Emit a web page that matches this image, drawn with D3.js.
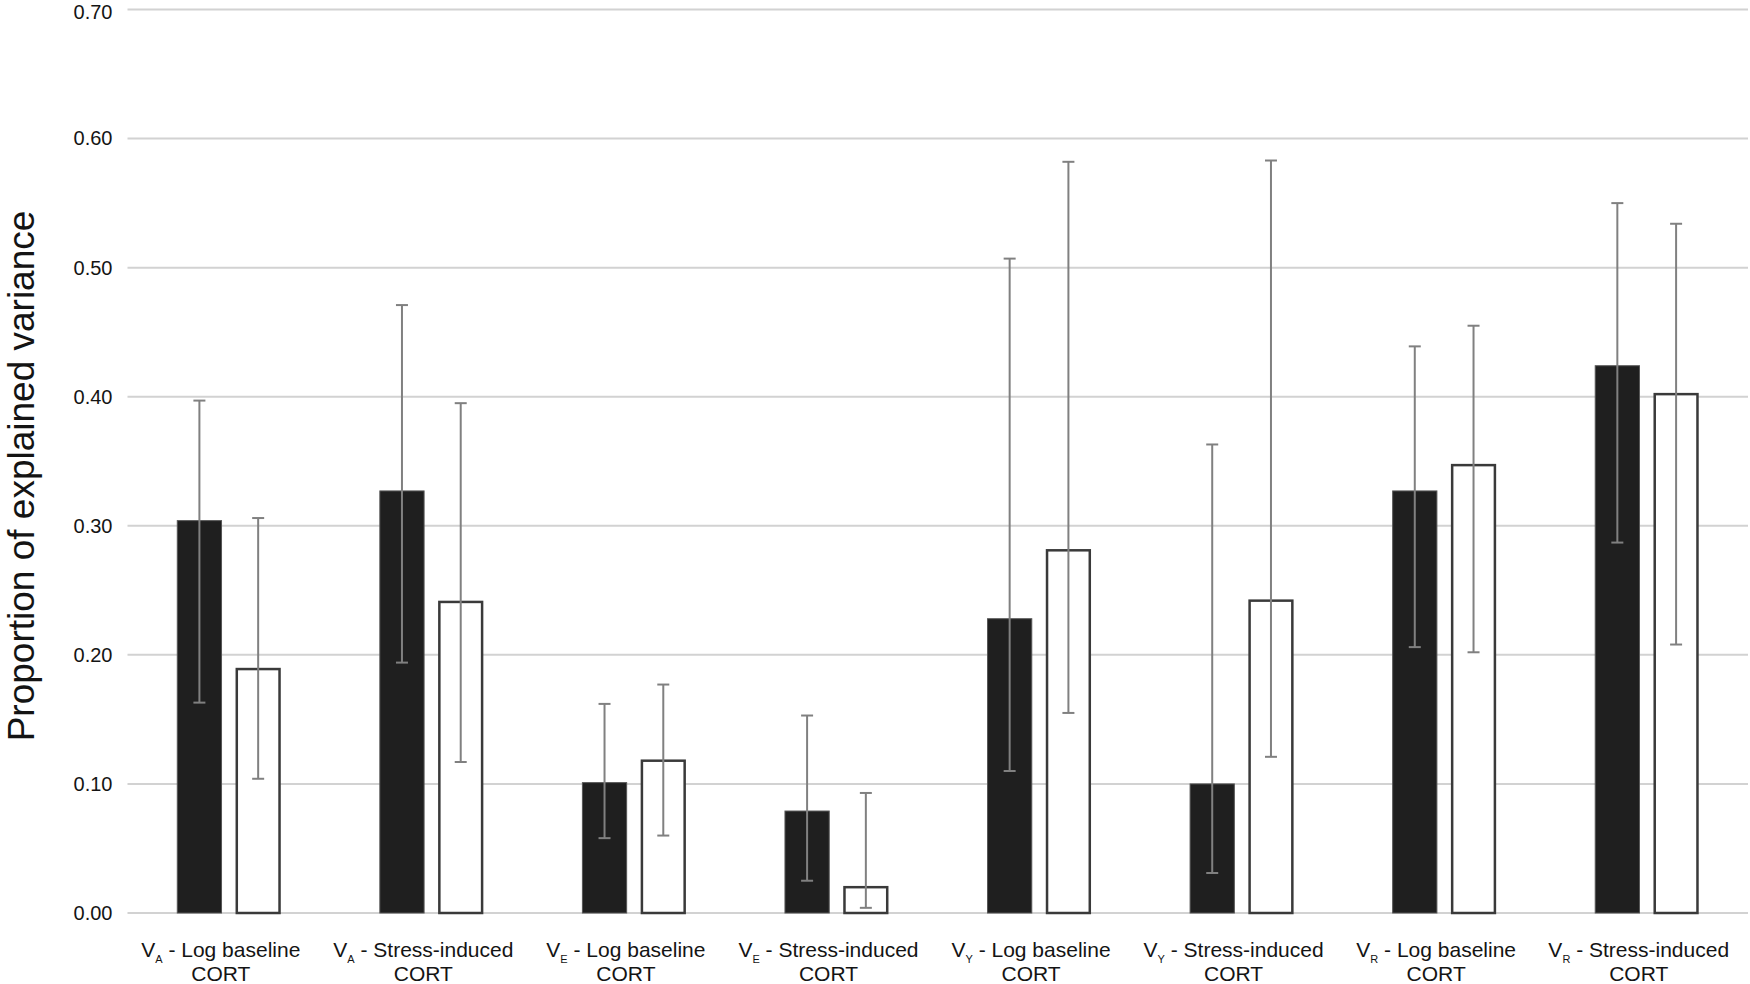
<!DOCTYPE html>
<html>
<head>
<meta charset="utf-8">
<script src="https://cdn.jsdelivr.net/npm/d3@7"></script>
<style>
  html, body { margin: 0; padding: 0; background: #fff; }
  svg { display: block; font-family: "Liberation Sans", Arial, Helvetica, sans-serif; }
</style>
</head>
<body>
<svg id="chart" width="1750" height="984"></svg>
<script>
// ---- data ----
const subscripts = ["A", "A", "E", "E", "Y", "Y", "R", "R"];
const traits = ["Log baseline", "Stress-induced", "Log baseline", "Stress-induced",
                "Log baseline", "Stress-induced", "Log baseline", "Stress-induced"];
const secondLine = ["CORT", "CORT", "CORT", "CORT", "CORT", "CORT", "CORT", "CORT"];

const blackValues = [0.304, 0.327, 0.101, 0.079, 0.228, 0.100, 0.327, 0.424];
const blackLower  = [0.163, 0.194, 0.058, 0.025, 0.110, 0.031, 0.206, 0.287];
const blackUpper  = [0.397, 0.471, 0.162, 0.153, 0.507, 0.363, 0.439, 0.550];

const whiteValues = [0.189, 0.241, 0.118, 0.020, 0.281, 0.242, 0.347, 0.402];
const whiteLower  = [0.104, 0.117, 0.060, 0.004, 0.155, 0.121, 0.202, 0.208];
const whiteUpper  = [0.306, 0.395, 0.177, 0.093, 0.582, 0.583, 0.455, 0.534];

const yTicks = [0, 0.1, 0.2, 0.3, 0.4, 0.5, 0.6, 0.7];
const yTitle = "Proportion of explained variance";

// ---- layout ----
const svg = d3.select("#chart");
const plotLeft = 127.5, plotRight = 1748, plotTop = 9.5, plotBottom = 913;

const idx = d3.range(subscripts.length);
const x = d3.scaleBand().domain(idx).range([plotLeft, plotRight]).paddingInner(0).paddingOuter(0);
const inner = d3.scaleBand().domain(["black", "white"]).range([-52, 52]).paddingInner(0.23);
const y = d3.scaleLinear().domain([0, 0.7]).range([plotBottom, plotTop]);

// gridlines
svg.append("g").selectAll("line").data(yTicks).join("line")
  .attr("x1", plotLeft).attr("x2", plotRight)
  .attr("y1", d => y(d)).attr("y2", d => y(d))
  .attr("stroke", "#d2d2d2").attr("stroke-width", 2);

// y axis labels
const yAxis = d3.axisLeft(y).tickValues(yTicks).tickFormat(d3.format(".2f")).tickSize(0).tickPadding(15);
const ya = svg.append("g").attr("transform", `translate(${plotLeft},0)`).call(yAxis);
ya.select(".domain").remove();
ya.selectAll("text").attr("font-size", 20).attr("fill", "#141414")
  .attr("font-family", "'Liberation Sans', Arial, sans-serif")
  .attr("dy", d => d === 0.7 ? "0.45em" : "0.32em");

// series
const series = [
  { key: "black", vals: blackValues, lo: blackLower, hi: blackUpper, fill: "#1f1f1f", stroke: "#555" , sw: 1},
  { key: "white", vals: whiteValues, lo: whiteLower, hi: whiteUpper, fill: "#ffffff", stroke: "#3a3a3a", sw: 2.5 }
];

series.forEach(s => {
  const g = svg.append("g");
  g.selectAll("rect").data(idx).join("rect")
    .attr("x", i => x(i) + x.bandwidth() / 2 + inner(s.key) + s.sw / 2)
    .attr("y", i => y(s.vals[i]))
    .attr("width", inner.bandwidth() - s.sw)
    .attr("height", i => y(0) - y(s.vals[i]))
    .attr("fill", s.fill).attr("stroke", s.stroke).attr("stroke-width", s.sw);
});

series.forEach(s => {
  const g = svg.append("g").attr("stroke", "#808080").attr("stroke-width", 2).attr("fill", "none");
  const cx = i => x(i) + x.bandwidth() / 2 + inner(s.key) + inner.bandwidth() / 2;
  g.selectAll("line.v").data(idx).join("line").attr("class", "v")
    .attr("x1", cx).attr("x2", cx)
    .attr("y1", i => y(s.lo[i])).attr("y2", i => y(s.hi[i]));
  g.selectAll("line.top").data(idx).join("line").attr("class", "top")
    .attr("x1", i => cx(i) - 6).attr("x2", i => cx(i) + 6)
    .attr("y1", i => y(s.hi[i])).attr("y2", i => y(s.hi[i]));
  g.selectAll("line.bot").data(idx).join("line").attr("class", "bot")
    .attr("x1", i => cx(i) - 6).attr("x2", i => cx(i) + 6)
    .attr("y1", i => y(s.lo[i])).attr("y2", i => y(s.lo[i]));
});

// x labels
const xl = svg.append("g").attr("font-size", 21).attr("fill", "#141414");
idx.forEach(i => {
  const cx = x(i) + x.bandwidth() / 2 - 8;
  const t = xl.append("text").attr("x", cx).attr("y", 957).attr("text-anchor", "middle");
  t.append("tspan").text("V");
  t.append("tspan").attr("font-size", 11).attr("dy", 6).text(subscripts[i]);
  t.append("tspan").attr("dy", -6).text(" - " + traits[i]);
  xl.append("text").attr("x", cx).attr("y", 981).attr("text-anchor", "middle").text(secondLine[i]);
});

// y title
svg.append("text")
  .attr("transform", "translate(34,476) rotate(-90)")
  .attr("text-anchor", "middle")
  .attr("font-size", 37)
  .attr("fill", "#141414")
  .text(yTitle);
</script>
</body>
</html>
